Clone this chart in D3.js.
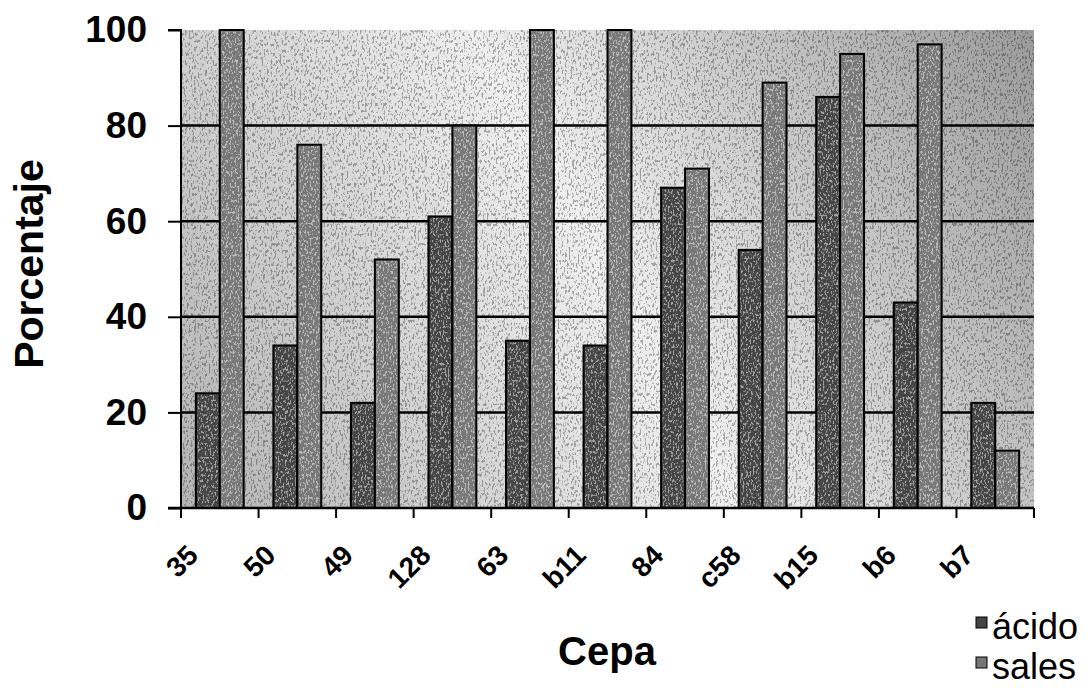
<!DOCTYPE html>
<html>
<head>
<meta charset="utf-8">
<script src="https://cdn.jsdelivr.net/npm/d3@7"></script>
<style>
  html, body { margin: 0; padding: 0; background: #fff; }
  svg { display: block; font-family: "Liberation Sans", Arial, Helvetica, sans-serif; }
</style>
</head>
<body>
<svg id="chart" width="1088" height="694"></svg>
<script>
// Strains and percentages per treatment
const categories = ["35", "50", "49", "128", "63", "b11", "84", "c58", "b15", "b6", "b7"];
const acido = [24, 34, 22, 61, 35, 34, 67, 54, 86, 43, 22];
const sales = [100, 76, 52, 80, 100, 100, 71, 89, 95, 97, 12];
const seriesNames = ["ácido", "sales"];
const yTicks = [0, 20, 40, 60, 80, 100];
const gridValues = [20, 40, 60, 80];

const seriesValues = { "ácido": acido, "sales": sales };
const seriesFill = { "ácido": "#444444", "sales": "#777777" };

const svg = d3.select("#chart");
const plotL = 181, plotR = 1034, plotT = 30, plotB = 508;

const x = d3.scaleBand().domain(categories).range([plotL, plotR]).padding(0);
const xs = d3.scaleBand().domain(seriesNames).range([0, x.bandwidth()])
  .paddingInner(0).paddingOuter(0.62);
const y = d3.scaleLinear().domain([0, 100]).range([plotB, plotT]);

const defs = svg.append("defs");

// diagonal grey shading behind the bars
const grad = defs.append("linearGradient").attr("id", "bg")
  .attr("gradientUnits", "userSpaceOnUse")
  .attr("x1", plotR).attr("y1", plotT).attr("x2", plotL).attr("y2", plotB);
grad.append("stop").attr("offset", "0").attr("stop-color", "#9c9c9c");
grad.append("stop").attr("offset", "0.5").attr("stop-color", "#f0f0f0");
grad.append("stop").attr("offset", "1").attr("stop-color", "#b4b4b4");

// grain used to give the fills a printed, stippled look
const dark = defs.append("filter").attr("id", "grainDark")
  .attr("x", 0).attr("y", 0).attr("width", "100%").attr("height", "100%");
dark.append("feTurbulence").attr("type", "fractalNoise")
  .attr("baseFrequency", "0.55 0.3").attr("numOctaves", 2).attr("seed", 4);
dark.append("feColorMatrix").attr("type", "matrix")
  .attr("values", "0 0 0 0 0  0 0 0 0 0  0 0 0 0 0  -9 0 0 0 4.1");

const light = defs.append("filter").attr("id", "grainLight")
  .attr("x", 0).attr("y", 0).attr("width", "100%").attr("height", "100%");
light.append("feTurbulence").attr("type", "fractalNoise")
  .attr("baseFrequency", "0.6 0.35").attr("numOctaves", 2).attr("seed", 9);
light.append("feColorMatrix").attr("type", "matrix")
  .attr("values", "0 0 0 0 1  0 0 0 0 1  0 0 0 0 1  8 0 0 0 -4.2");

// plot background
svg.append("rect").attr("x", plotL).attr("y", plotT)
  .attr("width", plotR - plotL).attr("height", plotB - plotT)
  .attr("fill", "url(#bg)");
svg.append("rect").attr("x", plotL).attr("y", plotT)
  .attr("width", plotR - plotL).attr("height", plotB - plotT)
  .attr("filter", "url(#grainDark)").attr("opacity", 0.3);

// horizontal gridlines
svg.append("g").selectAll("line").data(gridValues).join("line")
  .attr("x1", plotL).attr("x2", plotR)
  .attr("y1", d => y(d)).attr("y2", d => y(d))
  .attr("stroke", "#000").attr("stroke-width", 2.5);

// bars
const groups = svg.append("g").selectAll("g").data(categories).join("g")
  .attr("transform", d => `translate(${x(d)},0)`);

const barData = (c, i) => seriesNames.map(s => ({ s, v: seriesValues[s][i] }));

groups.selectAll("rect.bar").data(barData).join("rect")
  .attr("class", "bar")
  .attr("x", d => xs(d.s)).attr("width", xs.bandwidth())
  .attr("y", d => y(d.v)).attr("height", d => y(0) - y(d.v))
  .attr("fill", d => seriesFill[d.s])
  .attr("stroke", "#000").attr("stroke-width", 2);

// speckle over the bar fills
const barsClip = defs.append("clipPath").attr("id", "barsClip");
categories.forEach((c, i) => {
  barData(c, i).forEach(d => {
    barsClip.append("rect")
      .attr("x", x(c) + xs(d.s) + 1.5).attr("width", xs.bandwidth() - 3)
      .attr("y", y(d.v) + 1.5).attr("height", Math.max(0, y(0) - y(d.v) - 3));
  });
});
svg.append("g").attr("clip-path", "url(#barsClip)")
  .append("rect").attr("x", plotL).attr("y", plotT)
  .attr("width", plotR - plotL).attr("height", plotB - plotT)
  .attr("filter", "url(#grainLight)").attr("opacity", 0.5);

// y axis
const yAxis = d3.axisLeft(y).tickValues(yTicks).tickSize(13).tickPadding(21)
  .tickFormat(d3.format("d"));
const yg = svg.append("g").attr("transform", `translate(${plotL},0)`).call(yAxis);
yg.select(".domain").attr("stroke", "#000").attr("stroke-width", 2)
  .attr("d", `M-13,${plotT}H0V${plotB}`);
yg.selectAll(".tick line").attr("stroke", "#000").attr("stroke-width", 2);
yg.selectAll(".tick text").attr("fill", "#000")
  .style("font-size", "37px").style("font-weight", "bold")
  .style("font-family", "'Liberation Sans', Arial, sans-serif");

// x axis line and boundary ticks
const xg = svg.append("g");
xg.append("line").attr("x1", plotL - 13).attr("x2", plotR)
  .attr("y1", plotB).attr("y2", plotB)
  .attr("stroke", "#000").attr("stroke-width", 2.5);
const bounds = categories.map(c => x(c)).concat([x.range()[1]]);
xg.selectAll("line.tick").data(bounds).join("line").attr("class", "tick")
  .attr("x1", d => d).attr("x2", d => d)
  .attr("y1", plotB).attr("y2", plotB + 10)
  .attr("stroke", "#000").attr("stroke-width", 2);

// slanted category labels
const xl = xg.selectAll("g.lab").data(categories).join("g").attr("class", "lab")
  .attr("transform", d => `translate(${x(d) + x.bandwidth() / 2 - 20},557)`);
xl.append("text")
  .attr("transform", "rotate(-45)")
  .attr("text-anchor", "end")
  .style("font-size", "28px").style("font-weight", "bold")
  .text(d => d);

// axis titles
svg.append("text").attr("x", 607).attr("y", 665).attr("text-anchor", "middle")
  .style("font-size", "40px").style("font-weight", "bold").text("Cepa");
svg.append("text").attr("transform", "translate(43,264) rotate(-90)")
  .attr("text-anchor", "middle")
  .style("font-size", "41px").style("font-weight", "bold").text("Porcentaje");

// legend
const legend = svg.append("g").selectAll("g").data(seriesNames).join("g")
  .attr("transform", (d, i) => `translate(976,${617 + i * 40})`);
legend.append("rect").attr("width", 11).attr("height", 11)
  .attr("fill", d => seriesFill[d]).attr("stroke", "#000").attr("stroke-width", 1);
legend.append("text").attr("x", 16).attr("y", 22)
  .style("font-size", "36px").text(d => d);
</script>
</body>
</html>
